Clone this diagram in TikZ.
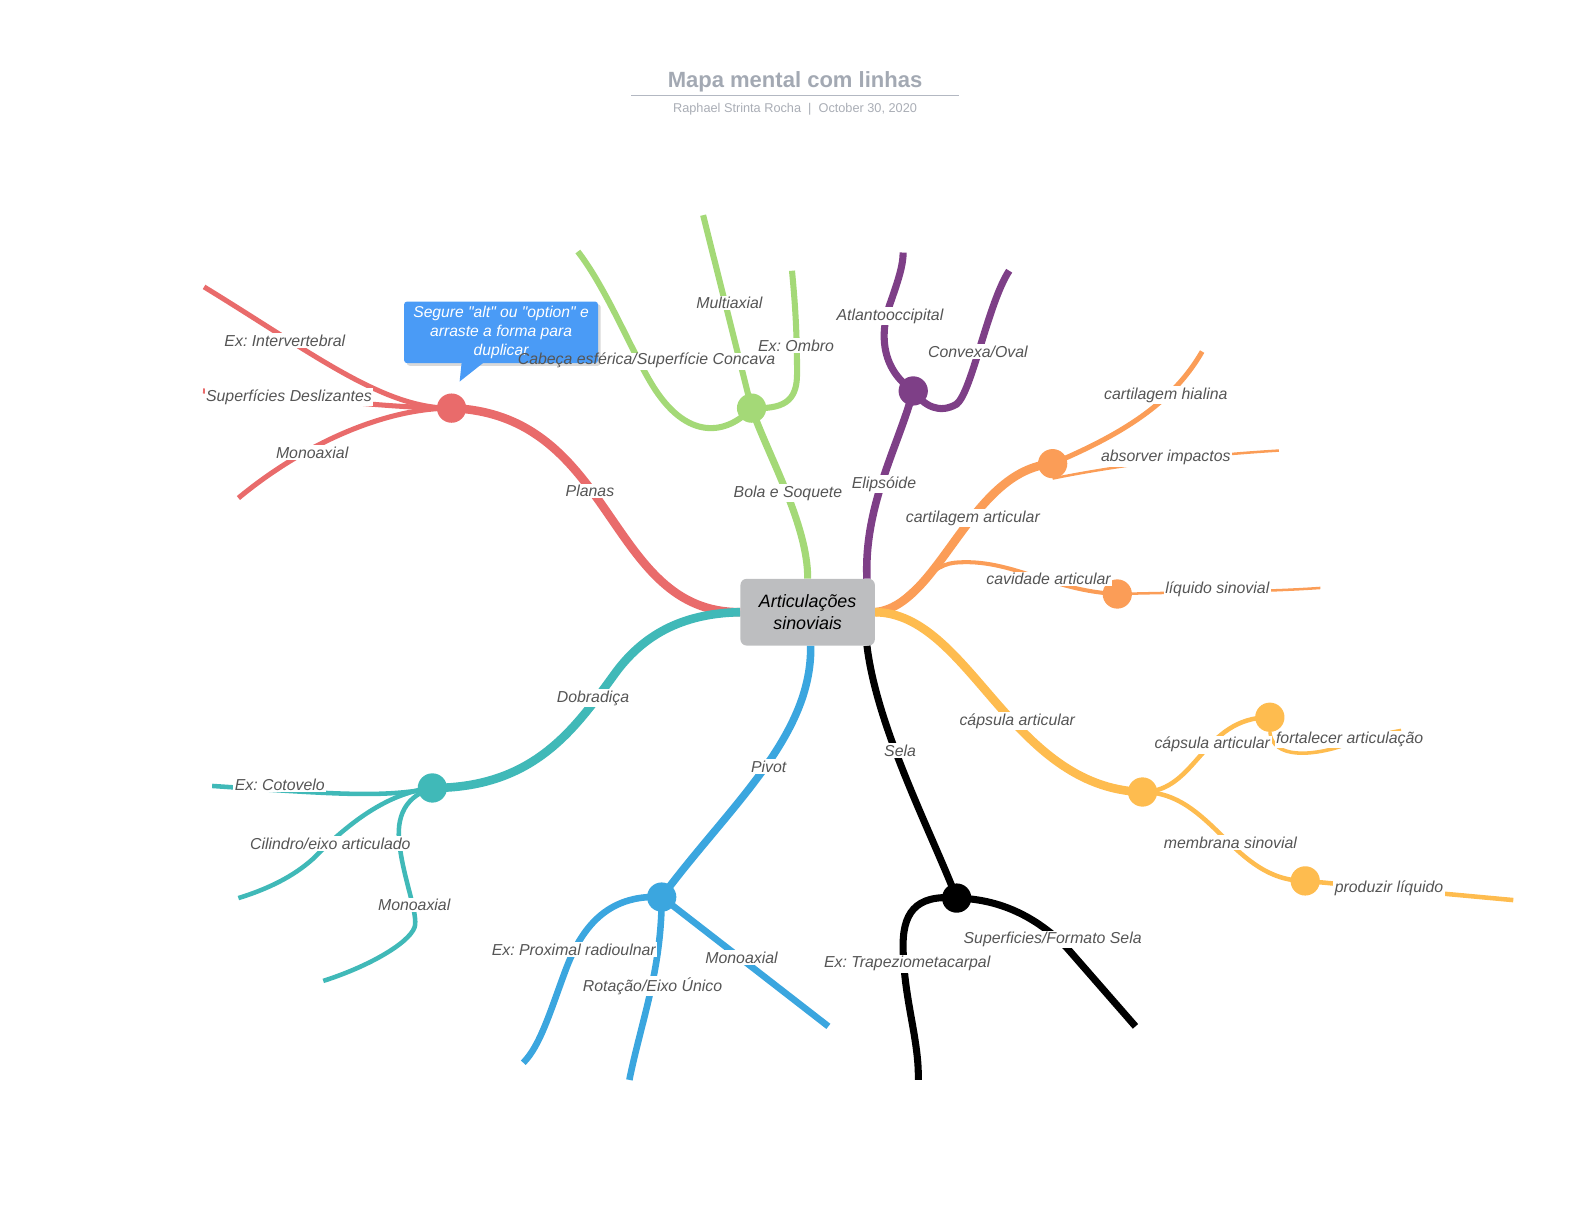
\documentclass[tikz,border=0pt]{standalone}
\usepackage{fontspec}
\setmainfont{Liberation Sans}
\newfontfamily\balfont{Liberation Sans}
\usetikzlibrary{shadows,backgrounds}
\definecolor{cred}{HTML}{E96B6B}
\definecolor{cgreen}{HTML}{A4D977}
\definecolor{cpurple}{HTML}{7E3F87}
\definecolor{corange}{HTML}{FB9D57}
\definecolor{cyellow}{HTML}{FEBC4F}
\definecolor{cteal}{HTML}{40B9B8}
\definecolor{cblue}{HTML}{3BA6DF}
\definecolor{lbl}{HTML}{555555}
\definecolor{ttl}{HTML}{A3A9B3}
\definecolor{subc}{HTML}{A9ADB5}
\definecolor{ttlline}{HTML}{B3B8C2}
\definecolor{boxgray}{HTML}{BDBEC0}
\definecolor{balloon}{HTML}{4A9BF6}
\frenchspacing
\begin{document}
\begin{tikzpicture}[x=1pt,y=-1pt,
  lab/.style={fill=white,inner sep=1.5pt,text=lbl,font=\fontsize{15.7}{18}\selectfont\itshape},
  dot/.style={circle,minimum size=29pt,inner sep=0pt,fill=#1},
  br/.style={draw=#1,line width=8.5pt},
  lw/.style={line width=#1},
]
\useasboundingbox (0,0) rectangle (1568,1212);

% title block
\node[font=\fontsize{21.8}{24}\selectfont\bfseries,text=ttl] (title) at (787,80.5) {Mapa mental com linhas};
\coordinate (tl1) at (625,94);
\coordinate (tl2) at (949,94);
\draw[ttlline,line width=0.9pt] (tl1) -- (tl2);
\node[font=\fontsize{12.6}{14}\selectfont,text=subc] (subtitle) at (787,108.5) {Raphael Strinta Rocha\ \ |\ \ October 30, 2020};

% central node
\node[fill=boxgray,rounded corners=6pt,minimum width=133pt,minimum height=66pt,inner sep=0pt,align=center,font=\fontsize{17.7}{21.5}\selectfont\itshape] (cbox) at (799.5,606) {Articulações\\sinoviais};

% hub circles
\node[dot=cred] (rc) at (447,404) {};
\node[dot=cgreen] (gc) at (744,404) {};
\node[dot=cpurple] (pc) at (904,387) {};
\node[dot=corange] (oc) at (1042,459) {};
\node[dot=corange] (oc2) at (1106,588) {};
\node[dot=cyellow] (yc) at (1131,784) {};
\node[dot=cyellow] (yc2) at (1257,710) {};
\node[dot=cyellow] (yc3) at (1292,872) {};
\node[dot=cteal] (tc) at (428,780) {};
\node[dot=cblue] (bc) at (655,888) {};
\node[dot=black] (kc) at (947,889) {};

% free ends
\coordinate (r1) at (202,284);
\coordinate (r2) at (201,387);
\coordinate (r3) at (236,493);
\coordinate (g1) at (696,213);
\coordinate (g2) at (784,268);
\coordinate (g3) at (572,249);
\coordinate (p1) at (894,250);
\coordinate (p2) at (999,268);
\coordinate (o1) at (1190,348);
\coordinate (o2) at (1266,446);
\coordinate (o3) at (1307,582);
\coordinate (y1) at (1387,723);
\coordinate (y2) at (1498,891);
\coordinate (t1) at (210,778);
\coordinate (t2) at (236,889);
\coordinate (t3) at (320,971);
\coordinate (b1) at (518,1052);
\coordinate (b2) at (623,1069);
\coordinate (b3) at (820,1016);
\coordinate (k1) at (909,1069);
\coordinate (k2) at (1124,1016);

\begin{pgfonlayer}{background}
% red
\draw[br=cred] (cbox.west) .. controls (600,607) and (610,410) .. (rc.center);
\draw[cred,lw=5pt] (rc.center) .. controls (380,405) and (310,350) .. (r1);
\draw[cred,lw=5pt] (rc.center) .. controls (380,404) and (300,392) .. (r2);
\draw[cred,lw=5pt] (rc.center) .. controls (380,404) and (300,440) .. (r3);
% green
\draw[br=cgreen,lw=7pt] (cbox.north) .. controls (800,520) and (760,450) .. (gc.center);
\draw[cgreen,lw=6pt] (gc.center) -- (g1);
\draw[cgreen,lw=6pt] (gc.center) .. controls (775,405) and (789,398) .. (789,370) .. controls (789,320) and (786,290) .. (g2);
\draw[cgreen,lw=6pt] (gc.center) .. controls (720,430) and (680,438) .. (645,380) .. controls (625,347) and (600,285) .. (g3);
\fill[white] (592,349) rectangle (770,366);
% purple
\draw[br=cpurple,lw=7.5pt] ([xshift=-8pt]cbox.north east) .. controls (855,500) and (890,440) .. (pc.center);
\draw[cpurple,lw=7pt] (pc.center) .. controls (872,365) and (870,330) .. (882,298) .. controls (890,275) and (894,262) .. (p1);
\draw[cpurple,lw=7pt] (pc.center) .. controls (915,402) and (930,410) .. (947,400) .. controls (962,388) and (978,300) .. (p2);
% orange
\draw[br=corange] (cbox.east) .. controls (930,600) and (960,465) .. (oc.center);
\draw[corange,lw=5pt] (oc.center) .. controls (1110,430) and (1160,400) .. (o1);
\draw[corange,lw=2.5pt] (oc.south) .. controls (1120,458) and (1200,450) .. (o2);
\draw[corange,lw=4pt] (cbox.east) .. controls (900,600) and (915,560) .. (945,557) .. controls (1000,552) and (1040,585) .. (oc2.center);
\draw[corange,lw=2.5pt] (oc2.center) .. controls (1180,586) and (1250,586) .. (o3);
% yellow
\draw[br=cyellow] (cbox.east) .. controls (960,607) and (1000,780) .. (yc.center);
\draw[cyellow,lw=4.5pt] (yc.center) .. controls (1185,784) and (1190,710) .. (yc2.center);
\draw[cyellow,lw=3.5pt] (yc2.south) .. controls (1260,752) and (1300,748) .. (1330,738) .. controls (1350,731) and (1370,726) .. (y1);
\draw[cyellow,lw=4.5pt] (yc.center) .. controls (1200,784) and (1220,872) .. (yc3.center);
\draw[cyellow,lw=4.5pt] (yc3.center) -- (y2);
% teal
\draw[br=cteal] (cbox.west) .. controls (680,607) and (640,625) .. (610,665) .. controls (570,720) and (530,780) .. (tc.center);
\draw[cteal,lw=4.5pt] (tc.center) .. controls (380,790) and (330,786) .. (t1);
\draw[cteal,lw=4.5pt] (tc.center) .. controls (380,785) and (340,820) .. (310,850) .. controls (290,868) and (265,880) .. (t2);
\draw[cteal,lw=4.5pt] (tc.center) .. controls (396,790) and (392,815) .. (396,840) .. controls (400,870) and (412,900) .. (411,915) .. controls (410,930) and (370,955) .. (t3);
% blue
\draw[br=cblue,lw=7.5pt] ([xshift=3pt]cbox.south) .. controls (804,730) and (720,800) .. (bc.center);
\draw[cblue,lw=6.5pt] (bc.center) .. controls (600,885) and (575,920) .. (560,960) .. controls (545,1000) and (535,1035) .. (b1);
\draw[cblue,lw=6.5pt] (bc.center) .. controls (655,960) and (635,1010) .. (b2);
\draw[cblue,lw=6.5pt] (bc.center) -- (b3);
% black
\draw[br=black,lw=7pt] ([xshift=-8pt]cbox.south east) .. controls (868,720) and (920,820) .. (kc.center);
\draw[black,lw=7pt] (kc.center) .. controls (905,885) and (893,905) .. (894,940) .. controls (895,990) and (910,1030) .. (k1);
\draw[black,lw=7pt] (kc.center) .. controls (995,890) and (1030,912) .. (1055,937) -- (k2);
\end{pgfonlayer}

% tooltip balloon
\node[fill=balloon,rounded corners=3pt,drop shadow={opacity=0.3},minimum width=192pt,minimum height=61pt,inner sep=0pt,text=white,align=center,font=\balfont\itshape\fontsize{15.5}{18.8}\selectfont] (tip) at (496,329) {Segure "alt" ou "option" e\\arraste a forma para\\duplicar};
\fill[balloon] ([xshift=-39pt,yshift=1pt]tip.south) -- ([xshift=-17pt,yshift=1pt]tip.south) -- ([xshift=-41pt,yshift=-18pt]tip.south) -- cycle;

% labels
\node[lab,fill=none] (lg3) at (640,357) {Cabeça esférica/Superfície Concava};
\node[lab] (lplanas) at (584,486) {Planas};
\node[lab] (lr1) at (282,337) {Ex: Intervertebral};
\node[lab] (lr2) at (286,393) {Superfícies Deslizantes};
\node[lab] (lr3) at (309,448) {Monoaxial};
\node[lab] (lg0) at (780,488) {Bola e Soquete};
\node[lab] (lg1) at (722,300) {Multiaxial};
\node[lab] (lg2) at (788,342) {Ex: Ombro};
\node[lab] (lp0) at (875,479) {Elipsóide};
\node[lab] (lp1) at (881,313) {Atlantooccipital};
\node[lab] (lp2) at (968,348) {Convexa/Oval};
\node[lab] (lo0) at (963,513) {cartilagem articular};
\node[lab] (lo1) at (1154,391) {cartilagem hialina};
\node[lab] (lo2) at (1154,453) {absorver impactos};
\node[lab] (lo4) at (1038,573) {cavidade articular};
\node[lab] (lo3) at (1205,583) {líquido sinovial};
\node[lab] (ly0) at (1007,714) {cápsula articular};
\node[lab] (ly1) at (1200,737) {cápsula articular};
\node[lab] (ly2) at (1336,732) {fortalecer articulação};
\node[lab] (ly3) at (1218,834) {membrana sinovial};
\node[lab] (ly4) at (1375,879) {produzir líquido};
\node[lab] (lt0) at (587,691) {Dobradiça};
\node[lab] (lt1) at (277,777) {Ex: Cotovelo};
\node[lab] (lt2) at (327,835) {Cilindro/eixo articulado};
\node[lab] (lt3) at (410,896) {Monoaxial};
\node[lab] (lb0) at (761,759) {Pivot};
\node[lab] (lb1) at (568,940) {Ex: Proximal radioulnar};
\node[lab] (lb2) at (646,976) {Rotação/Eixo Único};
\node[lab] (lb3) at (734,948) {Monoaxial};
\node[lab] (lk0) at (891,743) {Sela};
\node[lab] (lk1) at (1042,930) {Superficies/Formato Sela};
\node[lab] (lk2) at (898,954) {Ex: Trapeziometacarpal};
\end{tikzpicture}
\end{document}
